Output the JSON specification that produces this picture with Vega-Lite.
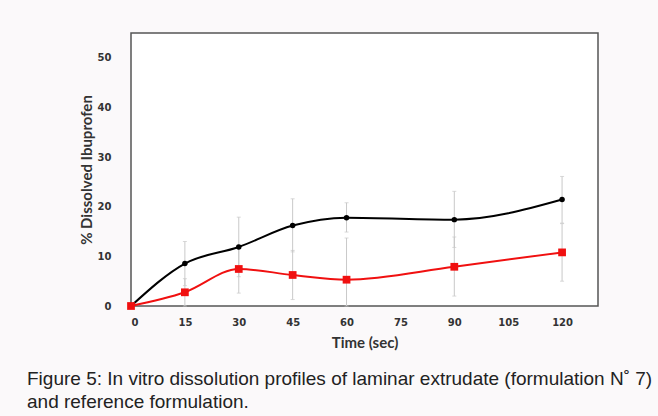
{
  "$schema": "https://vega.github.io/schema/vega-lite/v6.json",
  "width": 467,
  "height": 273,
  "autosize": {"type": "none"},
  "padding": {"left": 131, "top": 33, "right": 60, "bottom": 110},
  "background": "#fbf9fa",
  "title": {
    "text": ["Figure 5: In vitro dissolution profiles of laminar extrudate (formulation N˚ 7)", "and reference formulation."],
    "orient": "bottom",
    "anchor": "start",
    "frame": "group",
    "dx": -104,
    "offset": 20,
    "font": "Liberation Sans",
    "fontSize": 19,
    "fontWeight": "normal",
    "lineHeight": 23,
    "color": "#222222"
  },
  "data": {
    "values": [
      {"time": 0, "series": "Laminar extrudate", "value": 0, "lo": 0, "hi": 0},
      {"time": 15, "series": "Laminar extrudate", "value": 8.55, "lo": 4.1, "hi": 13.0},
      {"time": 30, "series": "Laminar extrudate", "value": 11.9, "lo": 5.9, "hi": 17.9},
      {"time": 45, "series": "Laminar extrudate", "value": 16.2, "lo": 10.9, "hi": 21.6},
      {"time": 60, "series": "Laminar extrudate", "value": 17.8, "lo": 14.9, "hi": 20.8},
      {"time": 90, "series": "Laminar extrudate", "value": 17.4, "lo": 11.8, "hi": 23.1},
      {"time": 120, "series": "Laminar extrudate", "value": 21.45, "lo": 16.7, "hi": 26.1},
      {"time": 0, "series": "Reference formulation", "value": 0, "lo": 0, "hi": 0},
      {"time": 15, "series": "Reference formulation", "value": 2.76, "lo": 0, "hi": 5.5},
      {"time": 30, "series": "Reference formulation", "value": 7.46, "lo": 2.6, "hi": 12.3},
      {"time": 45, "series": "Reference formulation", "value": 6.25, "lo": 1.3, "hi": 11.2},
      {"time": 60, "series": "Reference formulation", "value": 5.3, "lo": 0, "hi": 13.7},
      {"time": 90, "series": "Reference formulation", "value": 7.9, "lo": 2.0, "hi": 13.9},
      {"time": 120, "series": "Reference formulation", "value": 10.8, "lo": 5.0, "hi": 16.6}
    ]
  },
  "encoding": {
    "x": {
      "field": "time",
      "type": "quantitative",
      "scale": {"domain": [0, 130], "nice": false},
      "axis": {
        "values": [0, 15, 30, 45, 60, 75, 90, 105, 120],
        "title": "Time (sec)",
        "grid": false,
        "ticks": false,
        "domain": false,
        "labelPadding": 11,
        "titlePadding": 8
      }
    }
  },
  "layer": [
    {
      "mark": {"type": "rule", "color": "#c9c9c9", "strokeWidth": 1},
      "encoding": {
        "y": {
          "field": "lo",
          "type": "quantitative",
          "scale": {"domain": [0, 55], "nice": false},
          "axis": {
            "title": "% Dissolved Ibuprofen",
            "grid": false,
            "ticks": false,
            "domain": false,
            "values": [0, 10, 20, 30, 40, 50],
            "labelPadding": 20,
            "titlePadding": 3
          }
        },
        "y2": {"field": "hi"}
      }
    },
    {
      "mark": {"type": "tick", "color": "#c9c9c9", "size": 4, "thickness": 1, "orient": "horizontal"},
      "encoding": {"y": {"field": "hi", "type": "quantitative", "title": "% Dissolved Ibuprofen"}}
    },
    {
      "mark": {"type": "tick", "color": "#c9c9c9", "size": 4, "thickness": 1, "orient": "horizontal"},
      "encoding": {"y": {"field": "lo", "type": "quantitative", "title": "% Dissolved Ibuprofen"}}
    },
    {
      "mark": {"type": "line", "interpolate": "monotone", "strokeWidth": 2},
      "encoding": {
        "y": {"field": "value", "type": "quantitative", "title": "% Dissolved Ibuprofen"},
        "color": {"field": "series", "type": "nominal", "scale": {"domain": ["Laminar extrudate", "Reference formulation"], "range": ["#000000", "#f01010"]}, "legend": null}
      }
    },
    {
      "mark": {"type": "point", "filled": true, "opacity": 1},
      "encoding": {
        "y": {"field": "value", "type": "quantitative", "title": "% Dissolved Ibuprofen"},
        "color": {"field": "series", "type": "nominal", "scale": {"domain": ["Laminar extrudate", "Reference formulation"], "range": ["#000000", "#f01010"]}, "legend": null},
        "shape": {"field": "series", "type": "nominal", "scale": {"domain": ["Laminar extrudate", "Reference formulation"], "range": ["circle", "square"]}, "legend": null},
        "size": {"field": "series", "type": "nominal", "scale": {"domain": ["Laminar extrudate", "Reference formulation"], "range": [30, 60]}, "legend": null}
      }
    }
  ],
  "config": {
    "view": {"stroke": "#555555", "strokeWidth": 1.5, "fill": "#ffffff"},
    "axis": {
      "labelFont": "DejaVu Sans",
      "labelFontSize": 10,
      "labelFontWeight": "bold",
      "labelColor": "#333333",
      "titleFont": "Lato",
      "titleFontSize": 15,
      "titleFontWeight": "bold",
      "titleColor": "#333333"
    }
  }
}
